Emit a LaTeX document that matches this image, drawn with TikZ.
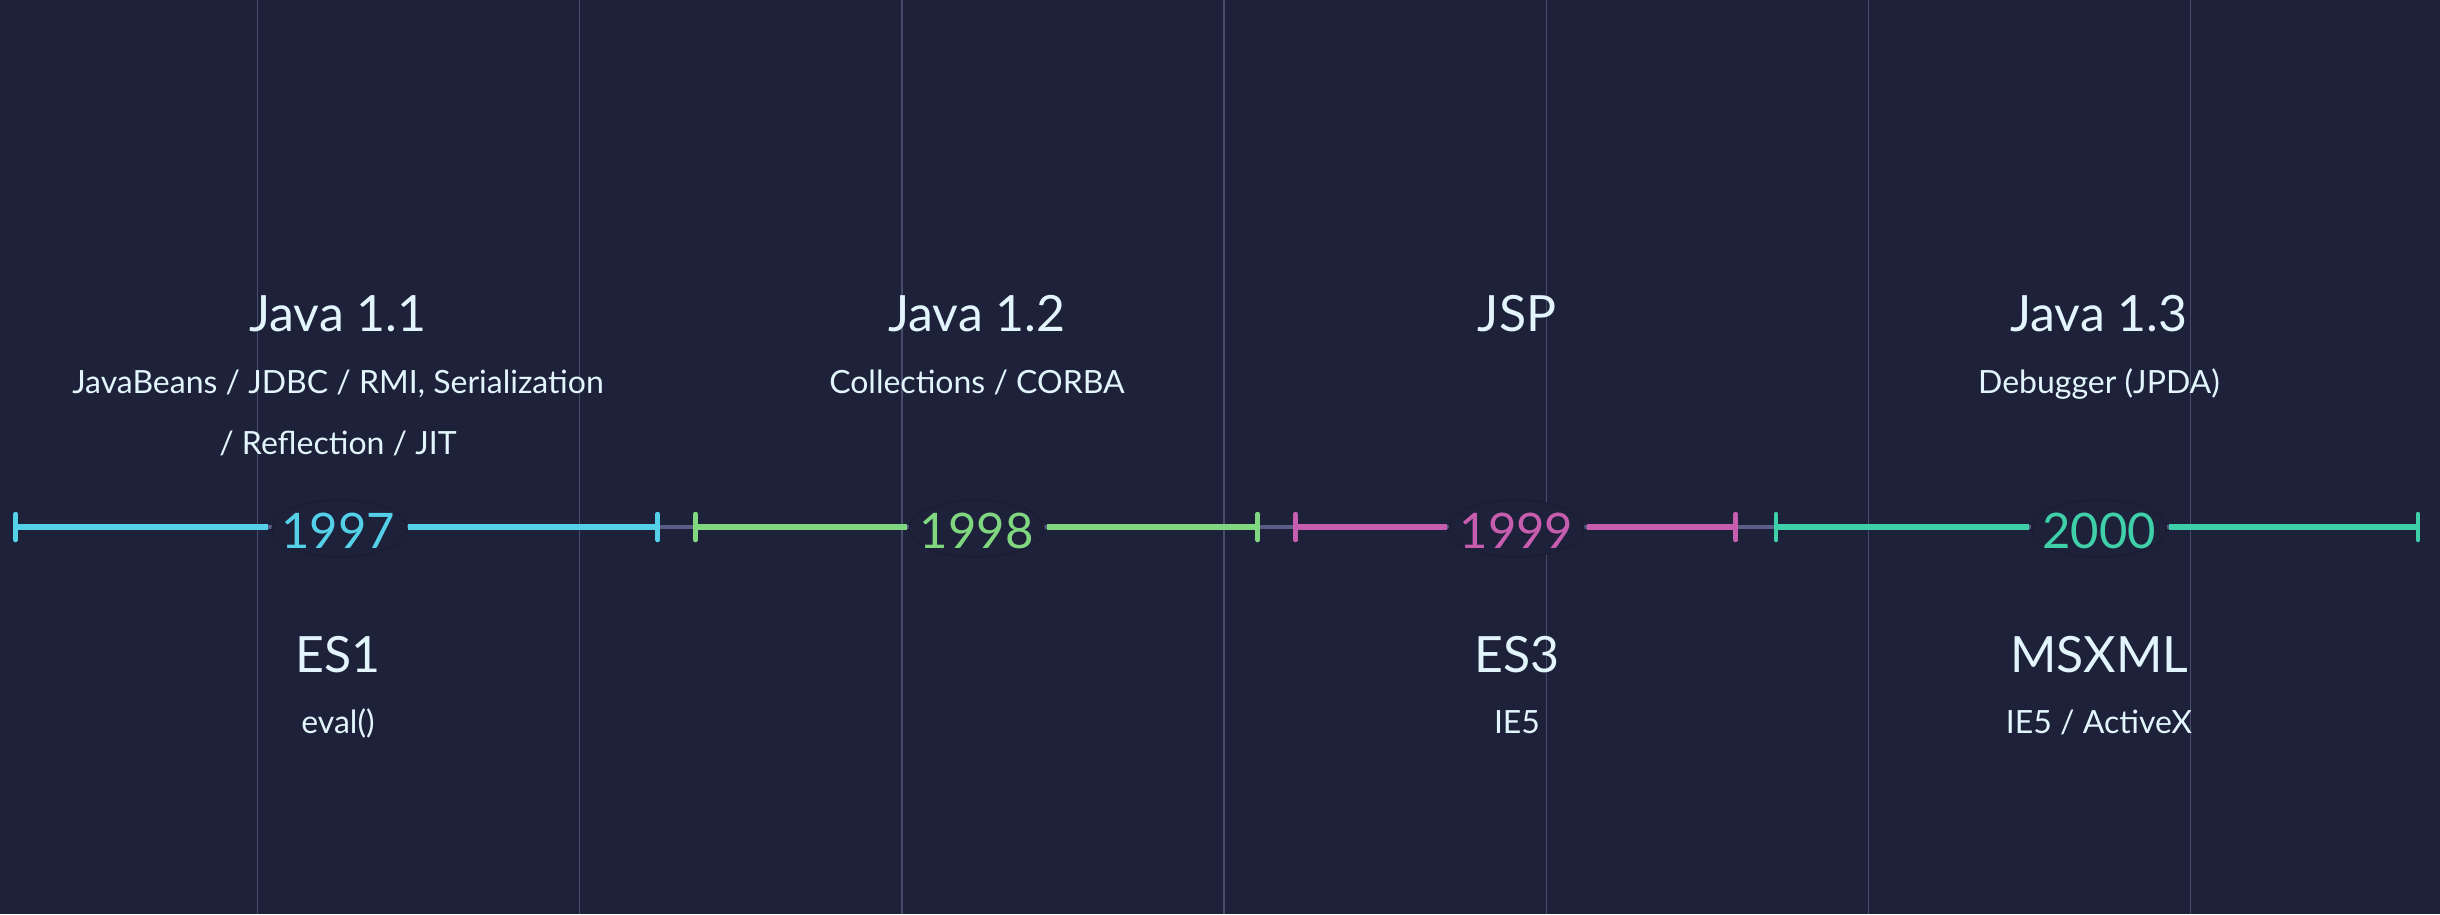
\documentclass[tikz,border=0pt]{standalone}
\usepackage{fontspec}
\setmainfont{Lato}
\definecolor{bg}{HTML}{1D2139}
\definecolor{gridc}{HTML}{474B6C}
\definecolor{axisc}{HTML}{5A5E86}
\definecolor{txt}{HTML}{E2F5FC}
\definecolor{c97}{HTML}{55D0E9}
\definecolor{c98}{HTML}{80D780}
\definecolor{c99}{HTML}{C75DAF}
\definecolor{c00}{HTML}{3FCFA9}
\definecolor{ring}{HTML}{1A1D33}
\begin{document}
\begin{tikzpicture}[x=1pt,y=-1pt,
  title/.style={anchor=base,inner sep=0pt,text=txt,font=\fontsize{50}{60}\selectfont},
  sub/.style={anchor=base,inner sep=0pt,text=txt,font=\fontsize{32}{38}\selectfont},
  yearlbl/.style={inner sep=0pt,font=\fontsize{49}{58}\selectfont},
  ringstyle/.style={fill=bg,draw=ring,line width=1.2pt},
  seg/.style={line width=6pt},
  tickmark/.style={line width=4.5pt,line cap=round},
  gridline/.style={draw=gridc,line width=1.3pt},
  axisline/.style={draw=axisc,line width=4pt}]
\useasboundingbox (0,0) rectangle (2440,914);
\fill[bg] (0,0) rectangle (2440,914);
% grid
\foreach \gx in {257.5,579.7,901.9,1224.1,1546.3,1868.5,2190.7}
  \draw[gridline] (\gx,0) -- (\gx,914);
% axis coordinates
\coordinate (s1l) at (15.6,527);
\coordinate (s1r) at (657.6,527);
\coordinate (s2l) at (695.5,527);
\coordinate (s2r) at (1257.6,527);
\coordinate (s3l) at (1295.5,527);
\coordinate (s3r) at (1735.7,527);
\coordinate (s4l) at (1776,527);
\coordinate (s4r) at (2418,527);
\draw[axisline] (s1l) -- (s4r);
% year label rings
\coordinate (r97) at (339.5,528.5);
\coordinate (r98) at (976.6,528.5);
\coordinate (r99) at (1516.5,528.5);
\coordinate (r00) at (2099,528.5);
\foreach \r in {r97,r98,r99,r00}
  \draw[ringstyle] (\r) ellipse (67.5 and 28.5);
% year labels
\node[yearlbl,text=c97] (y97) at (338,530.5) {1997};
\node[yearlbl,text=c98] (y98) at (976.6,530.5) {1998};
\node[yearlbl,text=c99] (y99) at (1516.5,530.5) {1999};
\node[yearlbl,text=c00] (y00) at (2099,530.5) {2000};
% segments
\draw[seg,c97] (s1l) -- ([xshift=-70pt]s1l -| y97.center) ([xshift=70pt]s1r -| y97.center) -- (s1r);
\draw[seg,c98] (s2l) -- ([xshift=-70pt]s2l -| y98.center) ([xshift=70pt]s2r -| y98.center) -- (s2r);
\draw[seg,c99] (s3l) -- ([xshift=-70pt]s3l -| y99.center) ([xshift=70pt]s3r -| y99.center) -- (s3r);
\draw[seg,c00] (s4l) -- ([xshift=-70pt]s4l -| y00.center) ([xshift=70pt]s4r -| y00.center) -- (s4r);
% ticks
\foreach \p/\c in {s1l/c97,s1r/c97,s2l/c98,s2r/c98,s3l/c99,s3r/c99,s4l/c00,s4r/c00}
  \draw[tickmark,\c] ([yshift=13pt]\p) -- ([yshift=-13pt]\p);
% column 1997
\node[title] (j11) at (338,331) {Java 1.1};
\node[sub] (j11a) at (338,393) {JavaBeans / JDBC / RMI, Serialization};
\node[sub] (j11b) at (338,454) {/ Reflection / JIT};
\node[title] (es1) at (338,672) {ES1};
\node[sub] (es1a) at (338,733) {eval()};
% column 1998
\node[title] (j12) at (977,331) {Java 1.2};
\node[sub] (j12a) at (977,393) {Collections / CORBA};
% column 1999
\node[title] (jsp) at (1517,331) {JSP};
\node[title] (es3) at (1517,672) {ES3};
\node[sub] (es3a) at (1517,733) {IE5};
% column 2000
\node[title] (j13) at (2099,331) {Java 1.3};
\node[sub] (j13a) at (2099,393) {Debugger (JPDA)};
\node[title] (msx) at (2099,672) {MSXML};
\node[sub] (msxa) at (2099,733) {IE5 / ActiveX};
\end{tikzpicture}
\end{document}
